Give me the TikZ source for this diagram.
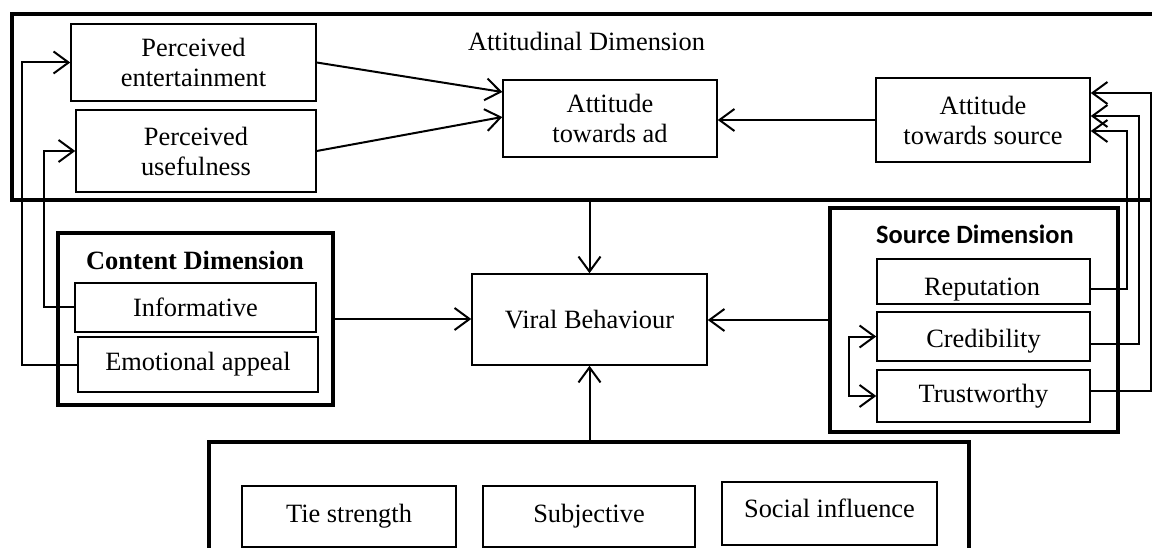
\documentclass[tikz,border=0pt]{standalone}
\usepackage{fontspec}
\setmainfont{Liberation Serif}
\newfontfamily\calibri{Carlito}
\usetikzlibrary{arrows.meta}
\begin{document}
\begin{tikzpicture}[x=1pt,y=-1pt,
  txt/.style={font=\fontsize{26.4}{30}\selectfont},
  box/.style={draw,line width=1.5pt,inner sep=0pt,align=center,txt},
  outer/.style={draw,line width=3.5pt,inner sep=0pt},
  lbl/.style={inner sep=0pt,anchor=base,txt},
  conn/.style={line width=2pt,-{Straight Barb[length=15pt,width=22pt,line width=2pt]}},
]
\clip (0,0) rectangle (1152,548);
\fill[white] (0,0) rectangle (1152,548);

% outer dimension boxes
\node[outer,minimum width=1158pt,minimum height=186pt] (att) at (591,107) {};
\node[outer,minimum width=275pt,minimum height=172pt] (content) at (195.5,319) {};
\node[outer,minimum width=288pt,minimum height=224pt] (source) at (974,320) {};
\node[outer,minimum width=760pt,minimum height=158pt] (bot) at (589,521) {};

% titles
\node[lbl] (atttitle) at (586.5,51) {Attitudinal Dimension};
\node[lbl,font=\fontsize{26.4}{30}\selectfont\bfseries] (contitle) at (195,270) {Content Dimension};
\node[lbl,font=\fontsize{26.4}{30}\selectfont\calibri\bfseries] (srctitle) at (975,244) {Source Dimension};

% attitudinal nodes
\node[box,minimum width=245pt,minimum height=77pt] (pe) at (193.5,62.5) {Perceived\\entertainment};
\node[box,minimum width=240pt,minimum height=82pt] (pu) at (196,151) {Perceived\\usefulness};
\node[box,minimum width=214pt,minimum height=77pt] (aad) at (610,118.5) {Attitude\\towards ad};
\node[box,minimum width=214pt,minimum height=84pt] (aso) at (983,120) {Attitude\\towards source};

% content nodes
\node[box,minimum width=241pt,minimum height=49pt] (inf) at (195.5,307.5) {Informative};
\node[box,minimum width=240pt,minimum height=55pt] (emo) at (198,364.5) {Emotional appeal};

% viral
\node[box,minimum width=235pt,minimum height=91pt] (viral) at (589.5,319.5) {Viral Behaviour};

% source nodes
\node[box,minimum width=213pt,minimum height=45pt] (rep) at (983.5,281.5) {};
\begin{scope}
  \clip (rep.north west) rectangle ([yshift=-296pt]rep.north east |- 0,296);
  \node[lbl] (reptext) at (982,296) {Reputation};
\end{scope}
\node[box,minimum width=213pt,minimum height=49pt] (cred) at (983.5,336.5) {};
\node[lbl] (credtext) at (983.5,347) {Credibility};
\node[box,minimum width=213pt,minimum height=52pt] (trust) at (983.5,396) {Trustworthy};

% bottom nodes
\node[box,minimum width=214pt,minimum height=61pt] (tie) at (349,516.5) {Tie strength};
\node[box,minimum width=212pt,minimum height=61pt] (subj) at (589,516.5) {Subjective};
\node[box,minimum width=215pt,minimum height=63pt] (soc) at (829.5,513.5) {};
\node[lbl] (soctext) at (829.5,517) {Social influence};

% connectors within attitudinal dimension
\draw[conn] (pe.east) -- ([yshift=26.5pt]aad.west);
\draw[conn] (pu.east) -- ([yshift=1.5pt]aad.west);
\draw[conn] (aso.west) -- (aso.west -| aad.east);

% content feedback lines
\draw[conn] (emo.west) -- ++(-55,0) |- (pe.west);
\draw[conn] (inf.west) -- ++(-30,0) |- (pu.west);

% source feedback lines
\draw[conn] ([yshift=-7.5pt]rep.east) -| ([xshift=36pt,yshift=-11pt]aso.east) -- ([yshift=-11pt]aso.east);
\draw[conn] ([yshift=-7.5pt]cred.east) -| ([xshift=48pt,yshift=4pt]aso.east) -- ([yshift=4pt]aso.east);
\draw[conn] ([yshift=5pt]trust.east) -| ([xshift=60pt,yshift=27pt]aso.east) -- ([yshift=27pt]aso.east);
\draw[conn,{Straight Barb[length=15pt,width=22pt,line width=2pt]}-{Straight Barb[length=15pt,width=22pt,line width=2pt]}] (cred.west) -- ++(-27,0) |- (trust.west);

% into viral behaviour
\draw[conn] (viral.north |- att.south) -- (viral.north);
\draw[conn] (content.east) -- (content.east -| viral.west);
\draw[conn] (source.west) -- (source.west -| viral.east);
\draw[conn] (viral.south |- bot.north) -- (viral.south);
\end{tikzpicture}
\end{document}
